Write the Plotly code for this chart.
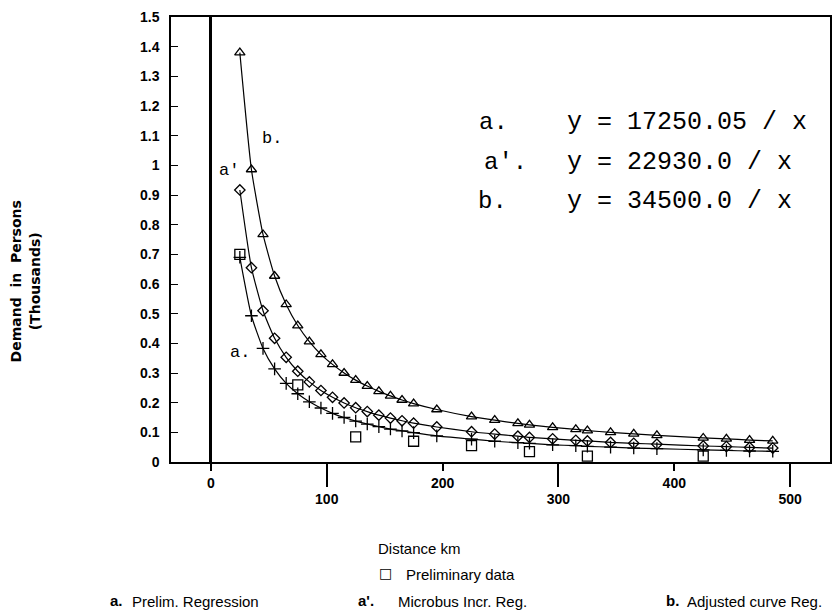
import plotly.graph_objects as go

# ---------------- data ----------------
distance_km = [25, 35, 45, 55, 65, 75, 85, 95, 105, 115, 125, 135, 145, 155, 165, 175,
               195, 225, 245, 265, 275, 295, 315, 325, 345, 365, 385, 425, 445, 465, 485]

# a.  Prelim. Regression   (y = 17250.05 / x, thousands)
reg_a = [0.690, 0.493, 0.383, 0.314, 0.265, 0.230, 0.203, 0.182, 0.164, 0.150, 0.138,
         0.128, 0.119, 0.111, 0.105, 0.099, 0.088, 0.077, 0.070, 0.065, 0.063, 0.058,
         0.055, 0.053, 0.050, 0.047, 0.045, 0.041, 0.039, 0.037, 0.036]

# a'. Microbus Incr. Reg.  (y = 22930.0 / x)
reg_a_prime = [0.917, 0.655, 0.510, 0.417, 0.353, 0.306, 0.270, 0.241, 0.218, 0.199, 0.183,
               0.170, 0.158, 0.148, 0.139, 0.131, 0.118, 0.102, 0.094, 0.087, 0.083, 0.078,
               0.073, 0.071, 0.066, 0.063, 0.060, 0.054, 0.052, 0.049, 0.047]

# b.  Adjusted curve Reg.  (y = 34500.0 / x)
reg_b = [1.380, 0.986, 0.767, 0.627, 0.531, 0.460, 0.406, 0.363, 0.329, 0.300, 0.276,
         0.256, 0.238, 0.223, 0.209, 0.197, 0.177, 0.153, 0.141, 0.130, 0.125, 0.117,
         0.110, 0.106, 0.100, 0.095, 0.090, 0.081, 0.078, 0.074, 0.071]

# Preliminary data
prelim_x = [25, 75, 125, 175, 225, 275, 325, 425]
prelim_y = [0.70, 0.26, 0.085, 0.07, 0.055, 0.035, 0.02, 0.02]

ytick_vals = [0, 0.1, 0.2, 0.3, 0.4, 0.5, 0.6, 0.7, 0.8, 0.9, 1.0, 1.1, 1.2, 1.3, 1.4, 1.5]
ytick_text = ["0", "0.1", "0.2", "0.3", "0.4", "0.5", "0.6", "0.7", "0.8", "0.9",
              "1", "1.1", "1.2", "1.3", "1.4", "1.5"]
xtick_even = [0, 200, 400]
xtick_odd = [100, 300, 500]

equations = [("a.", "y = 17250.05 / x"),
             ("a'.", "y = 22930.0 / x"),
             ("b.", "y = 34500.0 / x")]

legend_items = [("a.", "Prelim. Regression"),
                ("a'.", "Microbus Incr. Reg."),
                ("b.", "Adjusted curve Reg.")]

# ---------------- layout geometry ----------------
W, H = 837, 616
L, R, T, B = 171, 832, 17, 462
PW, PH = R - L, B - T


def px(x):
    return (x - L) / PW


def py(y):
    return (B - y) / PH


MONO = "Liberation Mono, Courier New, monospace"
SANS = "Liberation Sans, Arial, sans-serif"

fig = go.Figure()

line_style = dict(color="black", width=1.2, shape="spline", smoothing=0.5)

fig.add_trace(go.Scatter(x=distance_km, y=reg_b, mode="lines+markers", name="b.",
                         line=line_style,
                         marker=dict(symbol="triangle-up-open", size=9, color="black",
                                     line=dict(width=1.3, color="black"))))
fig.add_trace(go.Scatter(x=distance_km, y=reg_a_prime, mode="lines+markers", name="a'.",
                         line=line_style,
                         marker=dict(symbol="diamond-open", size=8, color="black",
                                     line=dict(width=1.3, color="black"))))
fig.add_trace(go.Scatter(x=distance_km, y=reg_a, mode="lines+markers", name="a.",
                         line=line_style,
                         marker=dict(symbol="cross-thin-open", size=9, color="black",
                                     line=dict(width=1.3, color="black"))))
fig.add_trace(go.Scatter(x=prelim_x, y=prelim_y, mode="markers", name="Preliminary data",
                         marker=dict(symbol="square-open", size=10, color="black",
                                     line=dict(width=1.3, color="black"))))
# helper trace so the second x axis (odd ticks) is drawn
fig.add_trace(go.Scatter(x=xtick_odd, y=[None] * len(xtick_odd), xaxis="x2",
                         mode="markers", showlegend=False, hoverinfo="skip"))

xr = [(L - 211) / 1.162, (R - 211) / 1.162]

fig.update_layout(
    width=W, height=H,
    margin=dict(l=L, r=W - R, t=T, b=H - B, pad=0),
    paper_bgcolor="white", plot_bgcolor="white",
    showlegend=False,
    xaxis=dict(range=xr, tickvals=xtick_even, ticks="outside", ticklen=7, tickwidth=1.5,
               tickcolor="black", showline=True, mirror=True, linecolor="black",
               linewidth=1.5, showgrid=False, zeroline=True, zerolinecolor="black",
               zerolinewidth=2.5,
               tickfont=dict(family=SANS, size=14, color="black", weight="bold")),
    xaxis2=dict(range=xr, overlaying="x", anchor="y", side="bottom", tickvals=xtick_odd,
                ticks="outside", ticklen=24, tickwidth=1.5, tickcolor="black",
                showline=False, showgrid=False, zeroline=False,
                tickfont=dict(family=SANS, size=14, color="black", weight="bold")),
    yaxis=dict(range=[0, 1.5], tickvals=ytick_vals, ticktext=ytick_text, ticks="inside",
               ticklen=7, tickwidth=1.2, tickcolor="black", showline=True, mirror=True,
               linecolor="black", linewidth=1.5, showgrid=False, zeroline=False,
               ticklabelstandoff=7,
               tickfont=dict(family=SANS, size=14, color="black", weight="bold")),
)

ann = []


def add_text(text, x, y, font, xanchor="center", angle=0):
    ann.append(dict(x=px(x), y=py(y), xref="paper", yref="paper", text=text,
                    xanchor=xanchor, yanchor="middle", textangle=angle,
                    showarrow=False, font=font))


# y-axis title
add_text("Demand&nbsp;&nbsp;in&nbsp;&nbsp;Persons<br>(Thousands)", 25, 281,
         dict(family="DejaVu Sans", size=14, color="black", weight="bold"), angle=-90)

legend_font = dict(family=SANS, size=15, color="black")
add_text("Distance km", 420, 548, legend_font)
add_text("\u25a1", 386, 573, dict(family="DejaVu Sans", size=14, color="black"))
add_text("Preliminary data", 405, 574, legend_font, xanchor="left")

for (lab, txt), xl, xt in zip(legend_items, [108, 357, 665], [130, 397, 687]):
    add_text("<b>" + lab + "</b>", xl, 600, legend_font, xanchor="left")
    add_text(txt, xt, 601, legend_font, xanchor="left")

# equations
for (lab, eq), yy, xl in zip(equations, [122, 162, 201], [478, 483, 477]):
    add_text(lab, xl, yy, dict(family=MONO, size=24, color="black"), xanchor="left")
    add_text(eq, 566, yy, dict(family=MONO, size=25, color="black"), xanchor="left")

# curve labels inside the plot
for t, xx, yy in [("b.", 272, 138), ("a'", 229, 170), ("a.", 240, 352)]:
    add_text(t, xx, yy, dict(family=MONO, size=17, color="black"))

fig.update_layout(annotations=ann)
fig.write_html("out.html")
